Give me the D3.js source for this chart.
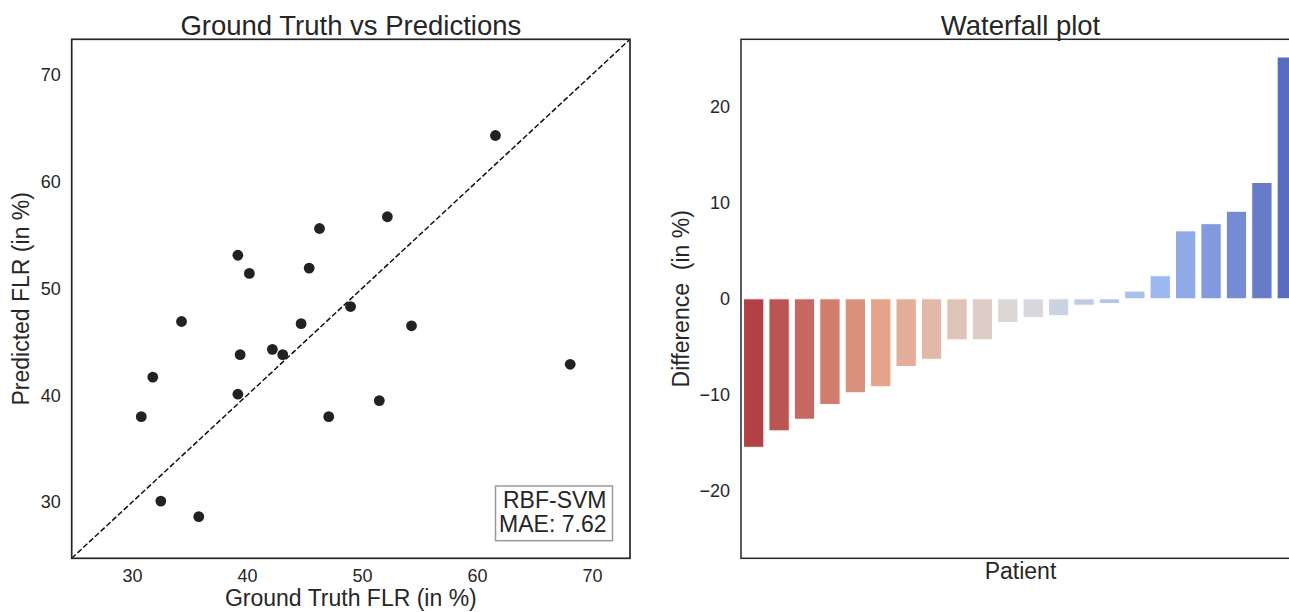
<!DOCTYPE html>
<html>
<head>
<meta charset="utf-8">
<script src="https://cdn.jsdelivr.net/npm/d3@7"></script>
<style>
  body { margin: 0; background: #fff; }
  text { font-family: "Liberation Sans", Arial, sans-serif; }
</style>
</head>
<body>
<svg id="chart" width="1289" height="612"></svg>
<script>
// ground truth vs predicted FLR, one entry per patient (in %)
const gtFLR   = [30.8, 31.8, 32.5, 34.3, 35.8, 39.2, 39.2, 39.4, 40.2, 42.2, 43.1,
                 44.7, 45.4, 46.3, 47.1, 49.0, 51.5, 52.2, 54.3, 61.6, 68.1];
const predFLR = [38.0, 41.7, 30.1, 46.9, 28.65, 53.1, 40.1, 43.8, 51.4, 44.3, 43.8,
                 46.7, 51.9, 55.6, 38.0, 48.3, 39.5, 56.7, 46.5, 64.3, 42.9];
const axisLims = [24.75, 73.3];
const scatterTicks = [30, 40, 50, 60, 70];
const modelName = "RBF-SVM";
const maeText = "MAE: 7.62";

// waterfall: sorted differences (in %)
const diffs = [-15.45, -13.74, -12.53, -11.0, -9.78, -9.15, -7.05, -6.3, -4.27, -4.27,
               -2.48, -1.96, -1.76, -0.67, -0.49, 0.8, 2.4, 7.07, 7.82, 9.11, 12.1, 25.16];
const diffLims = [-27, 27];
const diffTicks = [-20, -10, 0, 10, 20];

const TXT = "#262626";
const svg = d3.select("#chart");

// ---------- left: ground truth vs predictions ----------
const L = { left: 71.7, right: 630, top: 39.3, bottom: 558.3 };
const x = d3.scaleLinear().domain(axisLims).range([L.left, L.right]);
const y = d3.scaleLinear().domain(axisLims).range([L.bottom, L.top]);

svg.append("clipPath").attr("id", "clipL")
  .append("rect")
  .attr("x", L.left).attr("y", L.top)
  .attr("width", L.right - L.left).attr("height", L.bottom - L.top);

const gl = svg.append("g").attr("clip-path", "url(#clipL)");

gl.append("line")
  .attr("x1", x(axisLims[0])).attr("y1", y(axisLims[0]))
  .attr("x2", x(axisLims[1])).attr("y2", y(axisLims[1]))
  .attr("stroke", "#111").attr("stroke-width", 1.5)
  .attr("stroke-dasharray", "5.5,2.4");

gl.selectAll(".pt")
  .data(gtFLR.map((g, i) => [g, predFLR[i]]))
  .enter().append("circle")
  .attr("class", "pt")
  .attr("cx", d => x(d[0]))
  .attr("cy", d => y(d[1]))
  .attr("r", 5.4)
  .attr("fill", "#222");

const styleAxis = g => {
  g.select(".domain").remove();
  g.attr("color", TXT);
  g.selectAll("text")
    .attr("font-size", 18)
    .attr("font-family", '"Liberation Sans", Arial, sans-serif');
};

svg.append("g")
  .attr("transform", `translate(0,${L.bottom})`)
  .call(d3.axisBottom(x).tickValues(scatterTicks).tickSize(0).tickPadding(11))
  .call(styleAxis);

svg.append("g")
  .attr("transform", `translate(${L.left},0)`)
  .call(d3.axisLeft(y).tickValues(scatterTicks).tickSize(0).tickPadding(11))
  .call(styleAxis);

svg.append("rect")
  .attr("x", L.left).attr("y", L.top)
  .attr("width", L.right - L.left).attr("height", L.bottom - L.top)
  .attr("fill", "none").attr("stroke", TXT).attr("stroke-width", 1.7);

// model / MAE box
svg.append("rect")
  .attr("x", 495.5).attr("y", 486)
  .attr("width", 117).attr("height", 54.7)
  .attr("fill", "#fff").attr("stroke", "#9a9a9a").attr("stroke-width", 1.5);
svg.append("text").attr("x", 606.5).attr("y", 508.3)
  .attr("text-anchor", "end").attr("font-size", 23).attr("fill", TXT).text(modelName);
svg.append("text").attr("x", 606.5).attr("y", 532.3)
  .attr("text-anchor", "end").attr("font-size", 23).attr("fill", TXT).text(maeText);

svg.append("text")
  .attr("x", (L.left + L.right) / 2).attr("y", 34.5)
  .attr("text-anchor", "middle").attr("font-size", 27.5).attr("fill", TXT)
  .text("Ground Truth vs Predictions");
svg.append("text")
  .attr("x", (L.left + L.right) / 2).attr("y", 606)
  .attr("text-anchor", "middle").attr("font-size", 23).attr("fill", TXT)
  .text("Ground Truth FLR (in %)");
svg.append("text")
  .attr("transform", `translate(28.5,${(L.top + L.bottom) / 2}) rotate(-90)`)
  .attr("text-anchor", "middle").attr("font-size", 23).attr("fill", TXT)
  .text("Predicted FLR (in %)");

// ---------- right: waterfall plot ----------
const R = { left: 741, right: 1300, top: 39.3, bottom: 558.3 };
const xb = d3.scaleBand()
  .domain(d3.range(diffs.length))
  .range([R.left, R.right])
  .paddingInner(0.2).paddingOuter(0.1);
const yb = d3.scaleLinear().domain(diffLims).range([R.bottom, R.top]);

const n = diffs.length - 1;
const color = d3.scaleLinear()
  .domain([0, 0.24, 0.5, 0.76, 1].map(t => t * n))
  .range(["#b24044", "#e5a58b", "#dcdbdc", "#9eb9f1", "#5a6cbf"]);

svg.selectAll(".bar")
  .data(diffs)
  .enter().append("rect")
  .attr("class", "bar")
  .attr("x", (d, i) => xb(i))
  .attr("width", xb.bandwidth())
  .attr("y", d => yb(Math.max(0, d)))
  .attr("height", d => Math.abs(yb(d) - yb(0)))
  .attr("fill", (d, i) => color(i))
  .attr("stroke", "#fff").attr("stroke-width", 1);

svg.append("g")
  .attr("transform", `translate(${R.left},0)`)
  .call(d3.axisLeft(yb).tickValues(diffTicks).tickSize(0).tickPadding(11))
  .call(styleAxis);

svg.append("rect")
  .attr("x", R.left).attr("y", R.top)
  .attr("width", R.right - R.left).attr("height", R.bottom - R.top)
  .attr("fill", "none").attr("stroke", TXT).attr("stroke-width", 1.5);

svg.append("text")
  .attr("x", (R.left + R.right) / 2).attr("y", 34.5)
  .attr("text-anchor", "middle").attr("font-size", 27.5).attr("fill", TXT)
  .text("Waterfall plot");
svg.append("text")
  .attr("x", (R.left + R.right) / 2).attr("y", 579)
  .attr("text-anchor", "middle").attr("font-size", 23).attr("fill", TXT)
  .text("Patient");
svg.append("text")
  .attr("transform", `translate(688.5,${(R.top + R.bottom) / 2}) rotate(-90)`)
  .attr("text-anchor", "middle").attr("font-size", 23).attr("fill", TXT)
  .text("Difference  (in %)")
  .attr("xml:space", "preserve").style("white-space", "pre");
</script>
</body>
</html>
